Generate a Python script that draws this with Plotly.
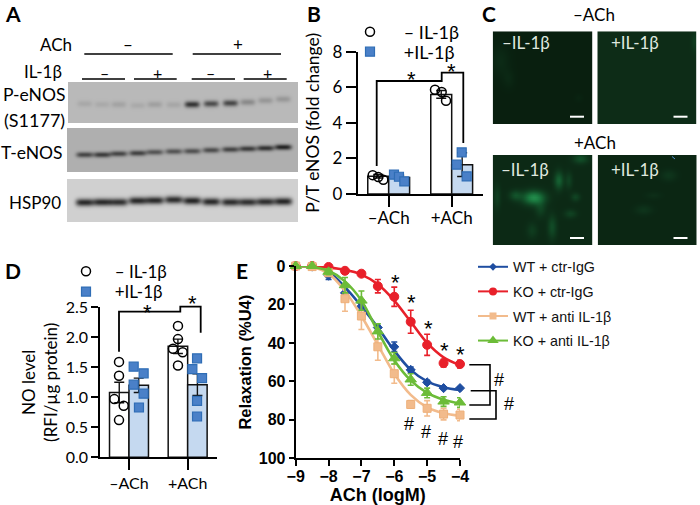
import numpy as np
import plotly.graph_objects as go

W, H = 700, 505
# ---------- data ----------
groups = [0, 1]
group_labels = ["–ACh", "+ACh"]
b_minus = [1.0, 5.6]
b_plus = [0.93, 1.65]
b_minus_err = [0.1, 0.22]
b_plus_err = [0.12, 0.67]
b_pts_minus_x = [-0.254, -0.165, -0.085, 0.735, 0.841, 0.91]
b_pts_minus_y = [1.06, 0.95, 0.8, 5.86, 5.73, 5.24]
b_pts_plus_x = [0.084, 0.163, 0.248, 1.159, 1.079, 1.238]
b_pts_plus_y = [1.09, 0.97, 0.71, 2.34, 1.65, 0.99]

d_minus = [1.08, 1.85]
d_plus = [1.2, 1.21]
d_minus_err = [0.17, 0.12]
d_plus_err = [0.12, 0.18]
d_pts_minus_x = [-0.17, -0.17, -0.25, -0.09, -0.17, 0.835, 0.835, 0.75, 0.915, 0.835]
d_pts_minus_y = [1.59, 1.36, 0.97, 0.86, 0.62, 2.19, 1.97, 1.81, 1.75, 1.53]
d_pts_plus_x = [0.08, 0.25, 0.08, 0.25, 0.17, 1.16, 1.08, 1.245, 1.16, 1.16]
d_pts_plus_y = [1.51, 1.40, 1.21, 1.06, 0.83, 1.65, 1.47, 1.32, 0.94, 0.68]

ach = [-9, -8.5, -8, -7.5, -7, -6.5, -6, -5.5, -5, -4.5, -4]
wt_ctr = [0, 0.3, 5, 14, 21, 32, 42, 54, 60.5, 63.5, 63.5]
wt_ctr_err = [0, 0.5, 2, 2, 2, 1, 2.5, 1.5, 1, 0.5, 0.5]
wt_ctr_fit = [0, 0.5, 3, 11, 21, 32, 44, 54, 60, 63, 64.5]
ko_ctr = [0, 0, 0.5, 2.5, 4, 10.5, 16, 29, 41, 50.5, 51]
ko_ctr_err = [0, 0.3, 0.5, 1, 1, 3.5, 5, 6, 5.5, 2, 2]
ko_ctr_fit = [0, 0.2, 0.8, 2, 4.5, 9.5, 18, 29, 40, 47.5, 51.5]
wt_anti = [0, 0.3, 3.5, 17, 26, 42, 56, 72, 74, 77, 77.5]
wt_anti_err = [0, 0.5, 1.5, 6.5, 7, 7, 5, 2, 4, 3, 3]
wt_anti_fit = [0, 0.5, 4, 13, 26, 41, 56, 67, 73.5, 76.5, 78]
ko_anti = [0, 0, 3, 10, 18, 34, 48, 59, 66, 70.5, 71]
ko_anti_err = [0, 0.5, 1.5, 4, 5, 4, 3, 3, 2.5, 2.5, 2.5]
ko_anti_fit = [0, 0.5, 2.5, 8, 18, 34, 49, 59.5, 66, 69.5, 71.5]

lanes_x = [84.3, 101.7, 118.3, 137.3, 154.3, 173.3, 191.7, 210.7, 230, 247.3, 265, 282.7]
p_y = [103.3, 104, 104, 105, 104, 104.3, 104, 103.3, 102.7, 101.7, 100, 98.7]
p_amp = [0.1, 0.09, 0.13, 0.09, 0.15, 0.11, 0.8, 0.65, 0.68, 0.28, 0.2, 0.2]
t_y = [154.3, 154.3, 153.3, 152.7, 151.7, 151, 150.7, 149.7, 149, 148.3, 147.7, 146.7]
t_amp = [0.68, 0.74, 0.68, 0.7, 0.58, 0.58, 0.6, 0.63, 0.68, 0.74, 0.8, 0.9]
h_y = [202, 201.7, 201.7, 200.3, 200, 199.3, 200.3, 201.3, 201.7, 201.7, 201.3, 201]
h_amp = [0.88, 0.88, 0.84, 0.88, 0.88, 0.86, 0.9, 0.88, 0.86, 0.84, 0.86, 0.9]

blobs_tl = [(30, 180, 28, 45, .07), (55, 235, 18, 28, .05), (265, 292, 12, 12, .03)]
blobs_tr = [(612, 125, 9, 28, .1)]
blobs_bl = [(130, 592, 32, 20, .62), (205, 540, 13, 26, .36), (75, 585, 18, 15, .24), (270, 475, 22, 14, .25),
            (185, 680, 13, 34, .22), (150, 625, 16, 24, .16), (240, 640, 18, 12, .16), (255, 590, 13, 12, .18),
            (125, 690, 16, 22, .12), (20, 590, 10, 34, .14), (235, 540, 10, 24, .16)]
blobs_br = [(535, 525, 24, 16, .1), (460, 628, 26, 14, .09), (490, 585, 24, 10, .05)]

fig = go.Figure()
layout = dict(width=W, height=H, margin=dict(l=0, r=0, t=0, b=0, autoexpand=False), paper_bgcolor="white",
              plot_bgcolor="rgba(0,0,0,0)", showlegend=True, barmode="overlay")
shapes, annos = [], []
px = lambda x: x / W
py = lambda y: 1 - y / H
n_ax = [0]

def axes(x0, x1, y0, y1, xa=None, ya=None):
    n_ax[0] += 1
    n = n_ax[0]
    s = "" if n == 1 else str(n)
    xa = dict(xa or dict(visible=False))
    ya = dict(ya or dict(visible=False))
    xa.update(domain=[x0 / W, x1 / W], anchor="y" + s)
    ya.update(domain=[1 - y1 / H, 1 - y0 / H], anchor="x" + s)
    layout["xaxis" + s] = xa
    layout["yaxis" + s] = ya
    return "x" + s, "y" + s

def text(x, y, t, size=16, fam="Lato", color="black", anchor="center", weight=None, angle=None):
    f = dict(size=size, family=fam, color=color)
    if weight:
        f["weight"] = weight
    d = dict(x=px(x), y=py(y), xref="paper", yref="paper", text=t, showarrow=False, font=f,
             xanchor=anchor, yanchor="middle")
    if angle is not None:
        d["textangle"] = angle
    annos.append(d)

def path(pts, width=1.8, color="black"):
    p = "M " + " L ".join(f"{px(a):.5f},{py(b):.5f}" for a, b in pts)
    shapes.append(dict(type="path", xref="paper", yref="paper", path=p, line=dict(color=color, width=width)))

GRAY = [[0, "#151515"], [1, "#ffffff"]]
def blot(x0, x1, y0, y1, base, lanes_y, amps, sx, sy, tilt=0.0):
    xs = np.arange(x0, x1 + 1, 1.0)
    ys = np.arange(y0, y1 + 1, 0.5)
    X, Y = np.meshgrid(xs, ys)
    z = np.full(X.shape, base) + tilt * (X - x0) / (x1 - x0)
    for lx, ly, a in zip(lanes_x, lanes_y, amps):
        z = z - a * base * np.exp(-((X - lx) / sx) ** 4 - ((Y - ly) / sy) ** 2)
    xn, yn = axes(x0, x1, y0, y1, dict(visible=False, range=[x0, x1]), dict(visible=False, range=[y1, y0]))
    fig.add_trace(go.Heatmap(x=xs, y=ys, z=z, xaxis=xn, yaxis=yn, colorscale=GRAY, zmin=0, zmax=1, showscale=False,
                             hoverinfo="skip", zsmooth="best", showlegend=False))

blot(68, 298, 82, 123, 0.70, p_y, p_amp, 7.5, 3.2)
blot(67, 298, 128, 172, 0.66, t_y, t_amp, 8.5, 2.8)
blot(67, 298, 179, 222, 0.80, h_y, h_amp, 9.0, 3.8)

GREEN = [[0, "#071a0c"], [0.12, "#0d2e18"], [0.3, "#114a26"], [0.6, "#1b7a40"], [1, "#35b565"]]
def micro(x0, x1, y0, y1, base, blobs):
    xs = np.arange(x0, x1 + 1, 2.0)
    ys = np.arange(y0, y1 + 1, 2.0)
    X, Y = np.meshgrid(xs, ys)
    z = np.full(X.shape, base)
    for bx, by, sx, sy, a in blobs:
        z = z + a * np.exp(-((X - (490 + bx / 3)) / (sx / 3)) ** 2 - ((Y - by / 3) / (sy / 3)) ** 2)
    xn, yn = axes(x0, x1, y0, y1, dict(visible=False, range=[x0, x1]), dict(visible=False, range=[y1, y0]))
    fig.add_trace(go.Heatmap(x=xs, y=ys, z=z, xaxis=xn, yaxis=yn, colorscale=GREEN, zmin=0, zmax=1, showscale=False,
                             hoverinfo="skip", zsmooth="best", showlegend=False))

micro(492.7, 592.3, 31.3, 124, 0.03, blobs_tl)
micro(597.3, 696.7, 31.3, 124, 0.11, blobs_tr)
micro(492.7, 592.3, 155, 245, 0.09, blobs_bl)
micro(597.7, 696.7, 155, 245, 0.07, blobs_br)

BLUEF = "#c5d9f0"
BLUEM = "#4a80c8"
BLUEL = "#2f6db5"

def barpanel(x0, x1, y0, y1, xr, yr, ytick, ytext, tsize, leg_a, leg_b, m, p, me, pe, mx, my, qx, qy, ticklen, msize, title, standoff, tstand, xstand, sp):
    ax = dict(range=xr, tickvals=groups, ticktext=group_labels, showline=True, linecolor="black", linewidth=1.6,
              ticks="outside", ticklen=11, tickwidth=1.6, tickcolor="black", showgrid=False, zeroline=False,
              tickfont=dict(family="Lato", size=tsize, color="black"), ticklabelstandoff=xstand)
    ay = dict(range=yr, tickvals=ytick, ticktext=ytext, showline=True, linecolor="black", linewidth=1.6,
              ticks="outside", ticklen=ticklen, tickwidth=1.6, tickcolor="black", showgrid=False, zeroline=False,
              tickfont=dict(family="Lato", size=tsize, color="black"),
              title=dict(text=title, font=dict(family="Lato", size=tstand, color="black"), standoff=standoff))
    xn, yn = axes(x0, x1, y0, y1, ax, ay)
    gx = np.array(groups, float)
    for off, vals, fill in ((-0.166, m, "white"), (0.166, p, BLUEF)):
        fig.add_trace(go.Bar(x=gx + off, y=vals, width=0.332, marker=dict(color=fill, line=dict(color="#111", width=1.5)),
                             xaxis=xn, yaxis=yn, showlegend=False, hoverinfo="skip"))
    for off, vals, errs in ((-0.166, m, me), (0.166, p, pe)):
        fig.add_trace(go.Scatter(x=gx + off, y=vals, mode="markers", marker=dict(size=1, color="rgba(0,0,0,0)"),
                                 error_y=dict(type="data", array=errs, color="#111", thickness=1.4, width=5),
                                 xaxis=xn, yaxis=yn, showlegend=False, hoverinfo="skip"))
    fig.add_trace(go.Scatter(x=mx, y=my, mode="markers", name=sp + "– IL-1β", legend=leg_a, cliponaxis=False,
                             marker=dict(symbol="circle-open", size=msize, color="black", line=dict(width=1.5, color="black")),
                             xaxis=xn, yaxis=yn))
    fig.add_trace(go.Scatter(x=qx, y=qy, mode="markers", name=sp + "+IL-1β", legend=leg_b, cliponaxis=False,
                             marker=dict(symbol="square", size=msize, color=BLUEM, line=dict(width=1.2, color=BLUEL)),
                             xaxis=xn, yaxis=yn))

barpanel(357.5, 483, 51.7, 194, [-0.495, 1.497], [0, 8], [0, 2, 4, 6, 8], ["0", "2", "4", "6", "8"], 17, "legend", "legend2",
         b_minus, b_plus, b_minus_err, b_plus_err, b_pts_minus_x, b_pts_minus_y, b_pts_plus_x, b_pts_plus_y, 10, 9,
         "P/T eNOS (fold change)", 8, 17.5, -3, "   ")
barpanel(100, 217, 307.3, 457.3, [-0.494, 1.5], [0, 2.5], [0, .5, 1, 1.5, 2, 2.5], ["0.0", "0.5", "1.0", "1.5", "2.0", "2.5"], 16, "legend3", "legend4",
         d_minus, d_plus, d_minus_err, d_plus_err, d_pts_minus_x, d_pts_minus_y, d_pts_plus_x, d_pts_plus_y, 7, 9,
         "NO level<br>(RFI/µg protein)", 4, 17, 0, "  ")

# ---------- panel E ----------
ex = dict(range=[-9, -4], tickvals=ach[::2], ticktext=["−9", "−8", "−7", "−6", "−5", "−4"], showline=True, linecolor="black",
          linewidth=2, ticks="outside", ticklen=6, tickwidth=2, tickcolor="black", showgrid=False, zeroline=False,
          tickfont=dict(family="Liberation Sans", size=16, color="black", weight="bold"), ticklabelstandoff=-4,
          title=dict(text="ACh (logM)", font=dict(family="Liberation Sans", size=18, color="black", weight="bold"), standoff=9))
ey = dict(range=[100, 0], tickvals=[0, 20, 40, 60, 80, 100], showline=True, linecolor="black", linewidth=2, ticks="outside",
          ticklen=5, tickwidth=2, tickcolor="black", showgrid=False, zeroline=False,
          tickfont=dict(family="Liberation Sans", size=16, color="black", weight="bold"),
          title=dict(text="Relaxation (%U4)", font=dict(family="Liberation Sans", size=16.5, color="black", weight="bold"), standoff=3))
xe, ye = axes(295.7, 460, 266, 458.3, ex, ey)
series = [
    ("WT + ctr-IgG", wt_ctr, wt_ctr_err, wt_ctr_fit, "#1f4ea1", "#1f4ea1", "diamond", 7, 6),
    ("KO + ctr-IgG", ko_ctr, ko_ctr_err, ko_ctr_fit, "#e8202a", "#e8202a", "circle", 9, 8),
    ("WT + anti IL-1β", wt_anti, wt_anti_err, wt_anti_fit, "#f2bb8c", "#eeb07a", "square", 8, 7),
    ("KO + anti IL-1β", ko_anti, ko_anti_err, ko_anti_fit, "#6cbc38", "#6cbc38", "triangle-up", 10, 10),
]
for nm, v, e, fit, col, edge, sym, size, lsize in series:
    fig.add_trace(go.Scatter(x=ach, y=fit, mode="lines", line=dict(color=col, width=2.6, shape="spline", smoothing=1.0),
                             xaxis=xe, yaxis=ye, showlegend=False, hoverinfo="skip", cliponaxis=False))
    fig.add_trace(go.Scatter(x=ach, y=v, mode="markers", showlegend=False,
                             marker=dict(color=col, symbol=sym, size=size, line=dict(color=edge, width=1)),
                             error_y=dict(type="data", array=e, color=col, thickness=1.6, width=3),
                             xaxis=xe, yaxis=ye, cliponaxis=False))
    fig.add_trace(go.Scatter(x=[None], y=[None], mode="lines+markers", name=nm, legend="legend5", legendgroup=nm,
                             line=dict(color=col, width=2), marker=dict(color=col, symbol=sym, size=lsize),
                             xaxis=xe, yaxis=ye))

# ---------- text / lines ----------
for t, x, y in (("A", 13, 13), ("B", 314, 13), ("C", 489, 13), ("D", 13, 270), ("E", 242, 270)):
    text(x, y, t, 21, "Lato", weight="bold")
text(74, 45, "ACh", 17, anchor="right")
text(64, 71, "IL-1β", 17, anchor="right")
text(128, 45, "–", 17); text(238, 45, "+", 17)
text(104, 72, "–", 16); text(157, 72, "+", 16); text(210, 72, "–", 16); text(267, 72, "+", 16)
text(34, 95, "P-eNOS", 17.5); text(34, 120, "(S1177)", 18); text(32, 152, "T-eNOS", 17.5); text(35, 202, "HSP90", 17)
for a, b, y in ((84.3, 172.7, 54), (192.7, 281, 54), (82, 125, 79), (134, 176.7, 79), (191.7, 235, 79), (243.7, 286.7, 79)):
    path([(a, y), (b, y)], 1.6)

text(593.5, 14, "–ACh", 17); text(595, 142, "+ACh", 17)
LAB = "#dfe7df"
for x, y, t in ((500, 43, "–IL-1β"), (609, 43, "+IL-1β"), (499, 169, "–IL-1β"), (609, 169, "+IL-1β")):
    text(x, y, t, 17, color=LAB, anchor="left")
for a, y in ((570, 116.7), (673.5, 116.7), (570, 238), (673.5, 238)):
    path([(a, y), (a + 14, y)], 2, "white")
path([(672, 156.5), (675, 159)], 1, "#4f8fd0")

# brackets
STAR = dict(size=22, fam="Liberation Sans")
path([(376.7, 166), (376.7, 81), (441.7, 81), (441.7, 72.7), (463.3, 72.7), (463.3, 143)], 1.8)
text(411.7, 79.5, "*", **STAR); text(451.7, 71.5, "*", **STAR)
path([(119, 351.7), (119, 311.7), (180.3, 311.7), (180.3, 306.7), (200.7, 306.7), (200.7, 332.7)], 1.8)
text(147, 312.8, "*", **STAR); text(192.7, 303.8, "*", **STAR)
for x, y in ((395, 276.7), (412, 297.3), (428.7, 323.3), (444.7, 345), (460, 349.3)):
    text(x, y + 5.5, "*", **STAR)
for x, y in ((408.7, 424.3), (425.7, 432.3), (442.7, 438.7), (458, 441.7)):
    text(x, y, "#", 18, fam="Liberation Sans")
path([(469.3, 364.7), (490, 364.7), (490, 405), (469.3, 405)], 1.6)
path([(470.7, 390.7), (496, 390.7), (496, 419), (469.3, 419)], 1.6)
text(498.7, 380, "#", 18, fam="Liberation Sans", anchor="center")
text(508.7, 404, "#", 18, fam="Liberation Sans", anchor="center")

lg = dict(bgcolor="rgba(0,0,0,0)", borderwidth=0, xanchor="left", itemclick=False, itemdoubleclick=False)
layout["legend"] = dict(lg, x=px(350), y=py(32), yanchor="middle", font=dict(family="Lato", size=18, color="black"))
layout["legend2"] = dict(lg, x=px(350), y=py(52), yanchor="middle", font=dict(family="Lato", size=18, color="black"))
layout["legend3"] = dict(lg, x=px(66), y=py(271.7), yanchor="middle", font=dict(family="Lato", size=17, color="black"))
layout["legend4"] = dict(lg, x=px(66), y=py(292), yanchor="middle", font=dict(family="Lato", size=17, color="black"))
layout["legend5"] = dict(lg, x=px(473), y=py(304), yanchor="middle", font=dict(family="Liberation Sans", size=14.3, color="#111"), tracegroupgap=3)
layout["shapes"] = shapes
layout["annotations"] = annos
fig.update_layout(**layout)
fig.write_html("out.html", config=dict(displayModeBar=False), post_script="document.body.style.margin='0';")
